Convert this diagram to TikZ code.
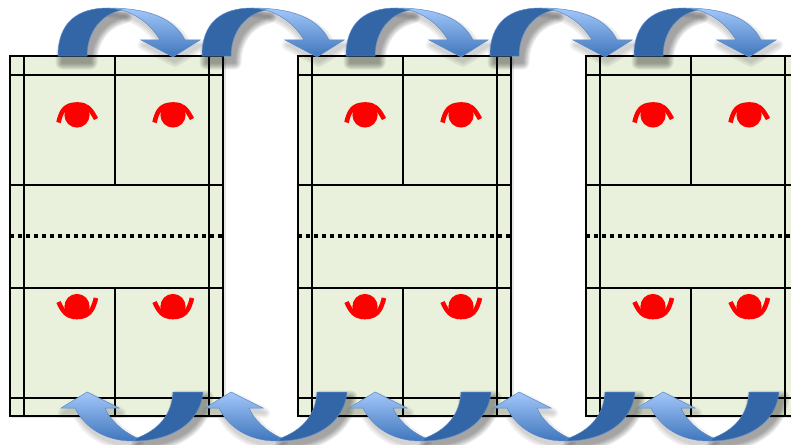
\documentclass[tikz,border=0pt]{standalone}
\usetikzlibrary{shadings}

\definecolor{courtgreen}{HTML}{E9F0DC}
\definecolor{arrowdark}{HTML}{3366A6}
\definecolor{arrowedge}{HTML}{5C8BC6}
\definecolor{arrowtop}{HTML}{A3C7FA}
\definecolor{arrowlow}{HTML}{3F76BC}

\tikzset{
    courtline/.style={line width=1.8pt,black},
    courtedge/.style={line width=2.2pt,black},
    netline/.style={line width=3.4pt,black,dash pattern=on 4pt off 4pt},
    player/.style={red,line width=4.6pt},
    bend dark/.style={fill=arrowdark,draw=arrowedge,line width=.5pt},
    bend light/.style={top color=arrowtop,bottom color=arrowlow,draw=arrowedge,line width=.5pt},
    soft/.style={transparency group,opacity=.06},
    softpath/.style={black,fill=black,line join=round},
}

\newcommand{\topdark}{(58,56) .. controls (58,22) and (78,8) .. (108,8) -- (122,10)
    .. controls (101,14) and (87,32) .. (87,56) -- cycle}
\newcommand{\toplight}{(108,8) .. controls (148,8) and (174,18) .. (185,40) -- (200,40) -- (173,57)
    -- (141,40) -- (160,40) .. controls (151,25) and (138,15) .. (122,10) -- cycle}
\newcommand{\lowdark}{(173,392) -- (203,392) .. controls (200,424) and (170,441) .. (133,441)
    -- (137,438) .. controls (158,430) and (172,415) .. (173,392) -- cycle}
\newcommand{\lowlight}{(87,392) -- (119,408) -- (105,408) .. controls (110,420) and (122,431) .. (137,438)
    -- (133,441) .. controls (105,441) and (85,428) .. (75,408) -- (61,408) -- cycle}

\tikzset{
    court/.pic={
        \fill[black,opacity=.1] (12,58) rectangle (226,418);
        \fill[courtgreen] (10,56) rectangle (223,416);
        \draw[courtline] (24,56) -- (24,416);
        \draw[courtline] (209,56) -- (209,416);
        \draw[courtline] (10,75) -- (223,75);
        \draw[courtline] (10,185) -- (223,185);
        \draw[courtline] (10,288) -- (223,288);
        \draw[courtline] (10,398) -- (223,398);
        \draw[courtline] (115,56) -- (115,185);
        \draw[courtline] (115,288) -- (115,416);
        \draw[netline] (10,236) -- (223,236);
        \draw[courtedge] (10,56) rectangle (223,416);
    },
    upperplayer/.pic={
        \fill[red] (77,115) circle (12.6);
        \draw[player] (58.5,122.5) .. controls (61,112) and (64,104.5) .. (77,104.5)
            .. controls (87,104.5) and (90,108) .. (96,119);
    },
    lowerplayer/.pic={
        \fill[red] (77,306.5) circle (12.6);
        \draw[player] (58.5,302) .. controls (63,312) and (67,317) .. (77,317)
            .. controls (89,317) and (93,310) .. (96,298);
    },
    toparrow/.pic={
        \foreach \w in {1,3,...,13} {
            \begin{scope}[soft]
                \draw[softpath,line width=\w] [shift={(4,7)}] \topdark;
            \end{scope}
        }
        \foreach \w in {2,6,10} {
            \begin{scope}[soft]
                \draw[softpath,line width=\w] [shift={(2,5)}] \toplight;
            \end{scope}
        }
        \path[bend light] \toplight;
        \path[bend dark] \topdark;
    },
    lowarrow/.pic={
        \foreach \w in {1,3,...,13} {
            \begin{scope}[soft]
                \draw[softpath,line width=\w] [shift={(4,5)}] \lowdark;
            \end{scope}
        }
        \foreach \w in {2,6,10} {
            \begin{scope}[soft]
                \draw[softpath,line width=\w] [shift={(2,5)}] \lowlight;
            \end{scope}
        }
        \path[bend light] \lowlight;
        \path[bend dark] \lowdark;
    },
}

\begin{document}
\begin{tikzpicture}[x=1pt,y=-1pt]
    \clip (0,0) rectangle (791,444);
    \fill[white] (0,0) rectangle (791,444);
    %
    \foreach \ox in {0,288,576} {
        \pic at (\ox,0) {court};
        \foreach \px in {0,96} {
            \pic at (\ox+\px,0) {upperplayer};
            \pic at (\ox+\px,0) {lowerplayer};
        }
    }
    %
    \foreach \ax in {0,144,288,432,576} {
        \pic at (\ax,0) {toparrow};
        \pic at (\ax,0) {lowarrow};
    }
\end{tikzpicture}
\end{document}
